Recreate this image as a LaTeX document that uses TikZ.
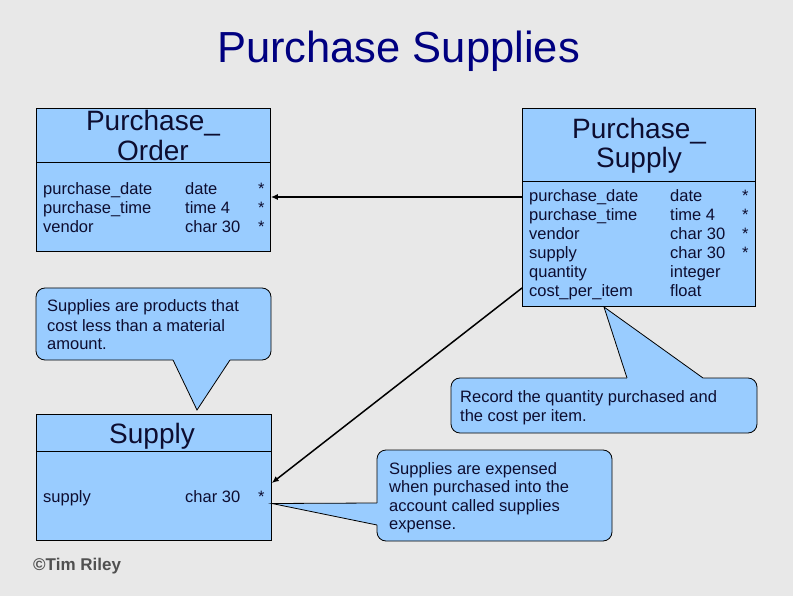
\documentclass[tikz,border=0pt]{standalone}
\usepackage{fontspec}
\setmainfont{Liberation Sans}
\usetikzlibrary{arrows.meta}
\definecolor{bg}{HTML}{E8E8E8}
\definecolor{boxblue}{HTML}{99CCFF}
\definecolor{navy}{HTML}{000080}
\definecolor{ink}{HTML}{0D0D30}
\definecolor{credit}{HTML}{505050}
\begin{document}
\begin{tikzpicture}[x=1pt,y=-1pt,
  entity/.style={draw=black, line width=0.8pt, fill=boxblue, anchor=north west, inner sep=0pt},
  divider/.style={draw=black, line width=0.8pt},
  head/.style={anchor=base, inner sep=0pt, text=ink, font=\fontsize{28}{30}\selectfont},
  attr/.style={anchor=base west, inner sep=0pt, text=ink, font=\fontsize{16.5}{19}\selectfont},
  ctext/.style={anchor=base west, inner sep=0pt, text=ink, font=\fontsize{16.5}{19}\selectfont},
  cbox/.style={draw=black, line width=0.8pt, fill=boxblue, rounded corners=9pt},
  cedge/.style={draw=black, line width=0.8pt},
  conn/.style={draw=black, line width=1.5pt, -{Latex[length=7pt,width=6pt]}},
]
\useasboundingbox (0,0) rectangle (793,596);
\fill[bg] (0,0) rectangle (793,596);

% title
\node[anchor=base, inner sep=0pt, text=navy, font=\fontsize{43.5}{48}\selectfont] (title) at (398.5,63) {Purchase Supplies};

% Purchase_Order entity
\node[entity, minimum width=234pt, minimum height=143pt] (po) at (36,108) {};
\draw[divider] (po.north west |- 0,162) -- (po.north east |- 0,162);
\node[head] (poh1) at (153,131) {Purchase\_};
\node[head] (poh2) at (153,161) {Order};
\node[attr] (poattr) at (43,195) {\begin{tabular}[t]{@{}p{142pt}@{}p{73pt}@{}l@{}}purchase\_date & date & *\\ purchase\_time & time 4 & *\\ vendor & char 30 & *\end{tabular}};

% Purchase_Supply entity
\node[entity, minimum width=233pt, minimum height=198pt] (ps) at (522,108) {};
\draw[divider] (ps.north west |- 0,181) -- (ps.north east |- 0,181);
\node[head] (psh1) at (639,139) {Purchase\_};
\node[head] (psh2) at (639,168) {Supply};
\node[attr] (psattr) at (529,202) {\begin{tabular}[t]{@{}p{141pt}@{}p{72pt}@{}l@{}}purchase\_date & date & *\\ purchase\_time & time 4 & *\\ vendor & char 30 & *\\ supply & char 30 & *\\ quantity & integer & \\ cost\_per\_item & float & \end{tabular}};

% Supply entity
\node[entity, minimum width=235pt, minimum height=126pt] (sup) at (36,414) {};
\draw[divider] (sup.north west |- 0,451) -- (sup.north east |- 0,451);
\node[head] (suph) at (152,443) {Supply};
\node[attr] (supattr) at (43,502) {\begin{tabular}[t]{@{}p{142pt}@{}p{73pt}@{}l@{}}supply & char 30 & *\end{tabular}};

% credit
\node[anchor=base west, inner sep=0pt, text=credit, font=\fontsize{17}{20}\selectfont\bfseries] (credit) at (33,570) {©Tim Riley};

% callout 1
\path[cbox] (36,288) rectangle (271,360);
\fill[boxblue] (173,356) -- (230,356) -- (230,360) -- (197,410) -- (173,360) -- cycle;
\draw[cedge] (173,360) -- (197,410) -- (230,360);
\node[ctext] (c1a) at (47,312) {Supplies are products that};
\node[ctext] (c1b) at (47,331) {cost less than a material};
\node[ctext] (c1c) at (47,349) {amount.};

% callout 2
\path[cbox] (451,378) rectangle (757,433);
\fill[boxblue] (627,382) -- (627,378) -- (604,307) -- (703,378) -- (703,382) -- cycle;
\draw[cedge] (627,378) -- (604,307) -- (703,378);
\node[ctext] (c2a) at (460,402) {Record the quantity purchased and};
\node[ctext] (c2b) at (460,421) {the cost per item.};

% callout 3
\path[cbox] (377,450) rectangle (612,541);
\fill[boxblue] (381,503) -- (377,503) -- (272,503.5) -- (377,525) -- (381,525) -- cycle;
\draw[cedge] (377,503) -- (272,503.5) -- (377,525);
\node[ctext] (c3a) at (389,474) {Supplies are expensed};
\node[ctext] (c3b) at (389,492.5) {when purchased into the};
\node[ctext] (c3c) at (389,511) {account called supplies};
\node[ctext] (c3d) at (389,529.5) {expense.};

% connectors
\draw[conn] (ps.north west |- 0,197) -- (po.north east |- 0,197);
\draw[conn] (ps.north west |- 0,288) -- (sup.north east |- 0,483);
\end{tikzpicture}
\end{document}
